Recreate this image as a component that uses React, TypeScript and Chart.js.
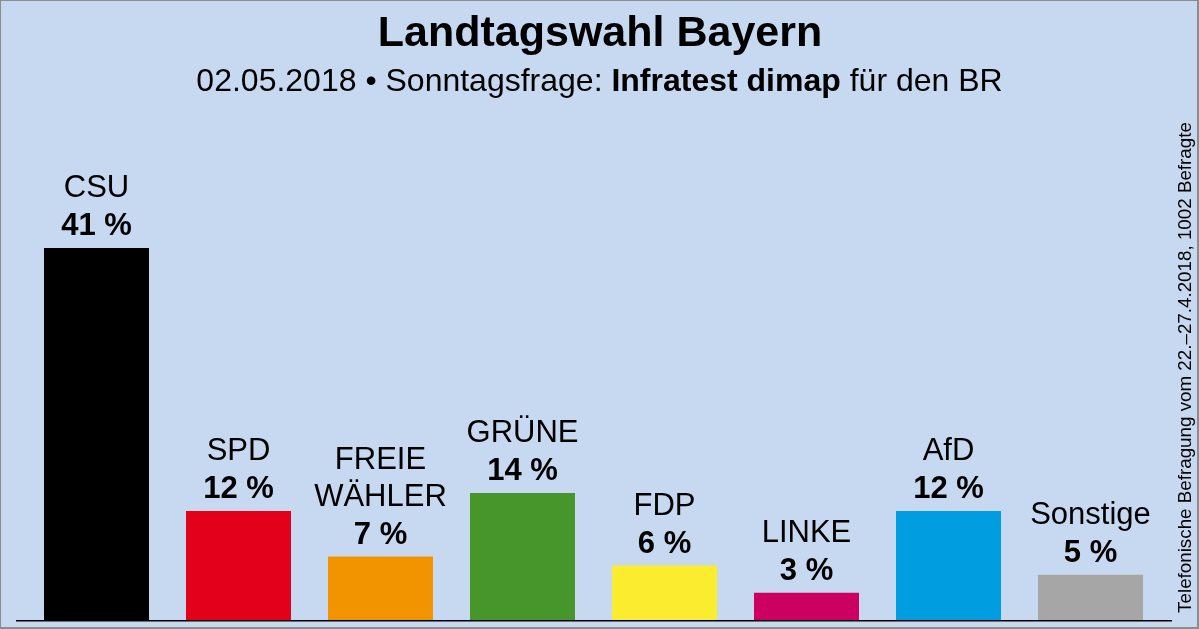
import React, { useEffect, useRef } from "react";
import { Chart, registerables } from "chart.js";

Chart.register(...registerables);

const parties: string[][] = [["CSU"], ["SPD"], ["FREIE", "WÄHLER"], ["GRÜNE"], ["FDP"], ["LINKE"], ["AfD"], ["Sonstige"]];
const values: number[] = [41, 12, 7, 14, 6, 3, 12, 5];
const colors: string[] = ["#000000", "#e2001a", "#f29400", "#46962b", "#fbec2f", "#cc0060", "#009ee0", "#a6a6a6"];
const titleText = "Landtagswahl Bayern";
const subtitleParts: { text: string; bold: boolean }[] = [
  { text: "02.05.2018 • Sonntagsfrage: ", bold: false },
  { text: "Infratest dimap", bold: true },
  { text: " für den BR", bold: false },
];
const noteText = "Telefonische Befragung vom 22.–27.4.2018, 1002 Befragte";

const FONT = "'Liberation Sans', Arial, Helvetica, sans-serif";
const W = 1199;
const H = 629;

const decorPlugin = {
  id: "decor",
  beforeDraw(chart: any) {
    const ctx = chart.ctx as CanvasRenderingContext2D;
    ctx.save();
    ctx.fillStyle = "#8c8c8c";
    ctx.fillRect(0, 0, W, H);
    ctx.fillStyle = "#c7d9f0";
    ctx.fillRect(1, 1, W - 3, H - 3);

    // title
    ctx.fillStyle = "#000";
    ctx.textBaseline = "alphabetic";
    ctx.textAlign = "center";
    ctx.font = `bold 43px ${FONT}`;
    ctx.fillText(titleText, 600, 46);

    // subtitle with mixed weights
    ctx.textAlign = "left";
    const widths = subtitleParts.map((p) => {
      ctx.font = `${p.bold ? "bold " : ""}32px ${FONT}`;
      return ctx.measureText(p.text).width;
    });
    const total = widths.reduce((a, b) => a + b, 0);
    let x = 599.5 - total / 2;
    subtitleParts.forEach((p, i) => {
      ctx.font = `${p.bold ? "bold " : ""}32px ${FONT}`;
      ctx.fillText(p.text, x, 91);
      x += widths[i];
    });

    // vertical note
    ctx.save();
    ctx.translate(1191, 367.5);
    ctx.rotate(-Math.PI / 2);
    ctx.textAlign = "center";
    ctx.font = `18.8px ${FONT}`;
    ctx.fillText(noteText, 0, 0);
    ctx.restore();
    ctx.restore();
  },
  afterDatasetsDraw(chart: any) {
    const ctx = chart.ctx as CanvasRenderingContext2D;
    const meta = chart.getDatasetMeta(0);
    const base = chart.scales.y.getPixelForValue(0);
    ctx.save();
    // axis line
    ctx.fillStyle = "#000";
    ctx.fillRect(16, base, 1156, 1.5);
    ctx.textAlign = "center";
    ctx.textBaseline = "alphabetic";
    meta.data.forEach((bar: any, i: number) => {
      const pctY = bar.y - 12.7;
      ctx.font = `bold 31px ${FONT}`;
      ctx.fillText(`${values[i]} %`, bar.x, pctY);
      ctx.font = `31px ${FONT}`;
      const lines = parties[i];
      lines.forEach((ln, j) => {
        const y = pctY - 38 - (lines.length - 1 - j) * 37;
        ctx.fillText(ln, bar.x, y);
      });
    });
    ctx.restore();
  },
};

export default function App() {
  const ref = useRef<HTMLCanvasElement>(null);
  useEffect(() => {
    document.body.style.margin = "0";
    if (!ref.current) return;
    const chart = new Chart(ref.current, {
      type: "bar",
      data: {
        labels: parties.map((p) => p.join(" ")),
        datasets: [
          {
            data: values,
            backgroundColor: colors,
            borderWidth: 0,
            categoryPercentage: 1,
            barPercentage: 105 / 142,
          },
        ],
      },
      options: {
        responsive: false,
        animation: false,
        devicePixelRatio: 1,
        layout: { padding: { left: 25.5, right: 37.5, top: 620 - 50 * 9.073, bottom: 9 } },
        scales: {
          x: { display: false },
          y: { display: false, min: 0, max: 50 },
        },
        plugins: {
          legend: { display: false },
          tooltip: { enabled: false },
          title: { display: false },
        },
      },
      plugins: [decorPlugin],
    });
    return () => chart.destroy();
  }, []);
  return (
    <div style={{ position: "absolute", left: 0, top: 0, width: W, height: H }}>
      <canvas ref={ref} width={W} height={H} style={{ width: W, height: H, display: "block" }} />
    </div>
  );
}
